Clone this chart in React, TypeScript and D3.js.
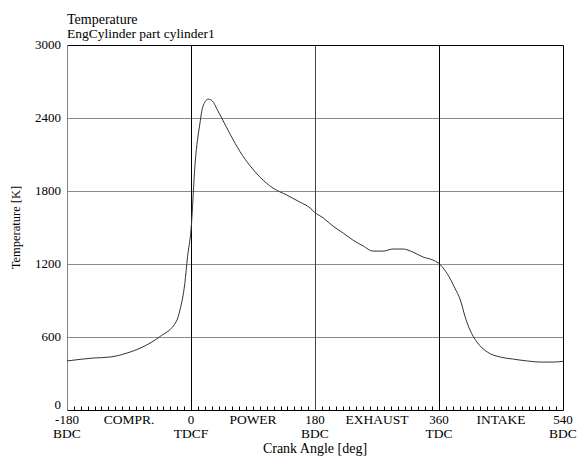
import React, { useEffect, useRef } from "react";
import * as d3 from "d3";

// crank angle [deg] and cylinder temperature [K]
const angle = [-180, -142, -118, -93, -70, -46, -21, -16, -9, -5, 0, 6, 13, 17, 25, 31, 38, 45, 57, 71, 86, 100, 119, 139, 158, 173, 179, 192, 206, 221, 235, 250, 264, 279, 293, 308, 322, 337, 351, 359, 372, 383, 391, 398, 405, 415, 430, 449, 467, 488, 507, 526, 540];
const temp = [403, 427, 435, 468, 518, 600, 731, 822, 1040, 1260, 1480, 2030, 2358, 2490, 2555, 2540, 2470, 2395, 2265, 2125, 2005, 1915, 1824, 1767, 1709, 1660, 1627, 1578, 1512, 1454, 1397, 1348, 1306, 1306, 1323, 1323, 1298, 1257, 1233, 1208, 1120, 1002, 904, 764, 657, 559, 477, 435, 419, 403, 394, 394, 400];

const yTicks = [0, 600, 1200, 1800, 2400, 3000];
const xTicks = [-180, 0, 180, 360, 540];
const xTickSub = ["BDC", "TDCF", "BDC", "TDC", "BDC"];
const strokes = [-90, 90, 270, 450];
const strokeNames = ["COMPR.", "POWER", "EXHAUST", "INTAKE"];

const W = 577;
const H = 456;
const margin = { top: 45, right: 14, bottom: 46, left: 67 };
const font = "'Liberation Serif', 'Times New Roman', serif";

const App = () => {
  const svgRef = useRef<SVGSVGElement>(null);

  useEffect(() => {
    const svg = d3.select(svgRef.current);
    svg.selectAll("*").remove();

    const x = d3.scaleLinear().domain([-180, 540]).range([margin.left, W - margin.right]);
    const y = d3.scaleLinear().domain([0, 3000]).range([H - margin.bottom, margin.top]);

    svg.append("rect").attr("width", W).attr("height", H).attr("fill", "#fff");

    // horizontal grid
    svg.append("g")
      .selectAll("line")
      .data(yTicks.slice(1, -1))
      .join("line")
      .attr("x1", x(-180)).attr("x2", x(540))
      .attr("y1", (d) => Math.round(y(d)) + 0.5).attr("y2", (d) => Math.round(y(d)) + 0.5)
      .attr("stroke", "#8c8c8c");

    // vertical dead-centre lines
    svg.append("g")
      .selectAll("line")
      .data(xTicks.slice(1, -1))
      .join("line")
      .attr("x1", (d) => Math.round(x(d)) + 0.5).attr("x2", (d) => Math.round(x(d)) + 0.5)
      .attr("y1", y(3000)).attr("y2", y(0))
      .attr("stroke", (d) => (d === 180 ? "#444" : "#000"));

    // frame
    const x0 = Math.round(x(-180)) + 0.5;
    const x1 = Math.round(x(540)) + 0.5;
    const yT = Math.round(y(3000)) + 0.5;
    const yB = Math.round(y(0)) + 0.5;
    svg.append("line").attr("x1", x0).attr("x2", x1).attr("y1", yT).attr("y2", yT).attr("stroke", "#000");
    svg.append("line").attr("x1", x1).attr("x2", x1).attr("y1", yT).attr("y2", yB).attr("stroke", "#000");
    svg.append("line").attr("x1", x0).attr("x2", x0).attr("y1", yT).attr("y2", yB).attr("stroke", "#808080");
    svg.append("line").attr("x1", x0).attr("x2", x1).attr("y1", yB).attr("y2", yB).attr("stroke", "#000");

    // minor ticks every 10 deg
    svg.append("g")
      .selectAll("line")
      .data(d3.range(-170, 540, 10).filter((d) => d % 180 !== 0))
      .join("line")
      .attr("x1", (d) => Math.round(x(d)) + 0.5).attr("x2", (d) => Math.round(x(d)) + 0.5)
      .attr("y1", yB).attr("y2", yB - 4)
      .attr("stroke", "#000");

    // curve
    const line = d3.line<number>()
      .x((d, i) => x(angle[i]))
      .y((d) => y(d))
      .curve(d3.curveMonotoneX);
    svg.append("path")
      .attr("d", line(temp))
      .attr("fill", "none")
      .attr("stroke", "#333")
      .attr("stroke-width", 1);

    const txt = svg.append("g").attr("font-family", font).attr("font-size", 13.5).attr("fill", "#000");

    // y tick labels
    txt.selectAll("text.yl")
      .data(yTicks)
      .join("text")
      .attr("class", "yl")
      .attr("x", margin.left - 6)
      .attr("y", (d) => (d === 0 ? y(d) - 1 : y(d) + 4))
      .attr("font-size", 13)
      .attr("text-anchor", "end")
      .text((d) => d);

    // x tick labels
    txt.selectAll("text.xl")
      .data(xTicks)
      .join("text")
      .attr("class", "xl")
      .attr("x", (d) => x(d))
      .attr("y", H - 32)
      .attr("font-size", 13)
      .attr("text-anchor", "middle")
      .text((d) => d);

    txt.selectAll("text.xs")
      .data(xTicks)
      .join("text")
      .attr("class", "xs")
      .attr("x", (d) => x(d))
      .attr("y", H - 18)
      .attr("text-anchor", "middle")
      .text((d, i) => xTickSub[i]);

    txt.selectAll("text.st")
      .data(strokes)
      .join("text")
      .attr("class", "st")
      .attr("x", (d) => x(d))
      .attr("y", H - 32)
      .attr("text-anchor", "middle")
      .text((d, i) => strokeNames[i]);

    txt.append("text")
      .attr("x", (x(-180) + x(540)) / 2)
      .attr("y", H - 3)
      .attr("font-size", 14)
      .attr("text-anchor", "middle")
      .text("Crank Angle [deg]");

    txt.append("text")
      .attr("transform", `translate(20,${(y(0) + y(3000)) / 2}) rotate(-90)`)
      .attr("font-size", 12.5)
      .attr("text-anchor", "middle")
      .text("Temperature [K]");

    txt.append("text").attr("x", margin.left).attr("y", 24).attr("font-size", 14).text("Temperature");
    txt.append("text").attr("x", margin.left).attr("y", 38).text("EngCylinder part cylinder1");
  }, []);

  return (
    <svg
      ref={svgRef}
      width={W}
      height={H}
      style={{ position: "absolute", left: 0, top: 0, display: "block" }}
    />
  );
};

export default App;
